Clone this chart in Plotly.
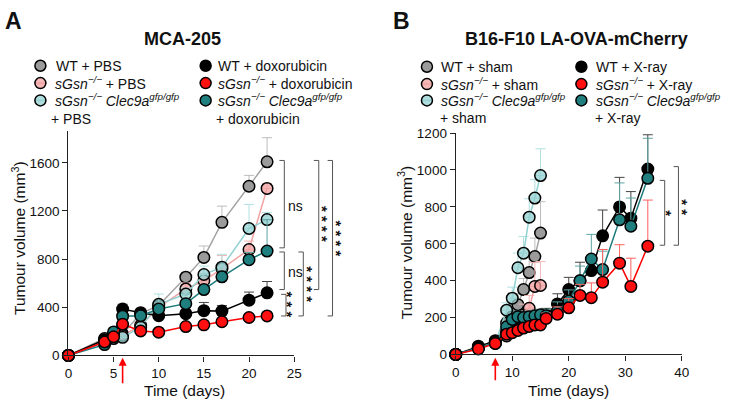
import plotly.graph_objects as go

# ---------------- DATA ----------------
# Panel A: MCA-205
days_A = [0, 4, 5, 6, 8, 10, 13, 15, 17, 20, 22]
wt_pbs = [0, 140, 165, 178, 348, 415, 650, 814, 1105, 1405, 1608]
wt_pbs_err = [0, 20, 20, 25, 30, 40, 40, 95, 135, 90, 200]
ko_pbs = [0, 125, 150, 165, 250, 400, 552, 620, 720, 880, 1387]
ko_pbs_err = [0, 20, 20, 25, 30, 40, 50, 60, 110, 70, 40]
dko_pbs = [0, 105, 140, 150, 235, 425, 510, 672, 733, 1054, 1128]
dko_pbs_err = [0, 20, 20, 25, 30, 85, 50, 70, 107, 200, 60]
wt_dox = [0, 130, 175, 385, 355, 330, 347, 372, 368, 459, 520]
wt_dox_err = [0, 20, 20, 40, 25, 30, 30, 68, 46, 67, 94]
dko_dox = [0, 90, 195, 326, 330, 385, 430, 547, 653, 795, 867]
dko_dox_err = [0, 20, 20, 25, 30, 40, 40, 40, 50, 60, 260]
ko_dox = [0, 112, 155, 259, 203, 193, 240, 254, 280, 315, 328]
ko_dox_err = [0, 15, 15, 20, 20, 20, 20, 25, 25, 25, 25]
treat_day_A = 6

# Panel B: B16-F10 LA-OVA-mCherry
days_sham = [0, 4, 7, 9, 10, 11, 12, 13, 14, 15]
wt_sham = [0, 35, 70, 170, 205, 270, 352, 444, 531, 658]
wt_sham_err = [0, 10, 15, 30, 40, 60, 60, 80, 100, 170]
ko_sham = [0, 35, 65, 100, 178, 190, 213, 250, 369, 374]
ko_sham_err = [0, 10, 15, 20, 30, 40, 60, 70, 130, 130]
dko_sham = [0, 35, 60, 240, 305, 470, 549, 744, 848, 970]
dko_sham_err = [0, 10, 15, 40, 60, 80, 90, 100, 100, 145]

days_xray = [0, 4, 7, 9, 10, 11, 12, 13, 14, 15, 16, 18, 20, 22, 24, 26, 29, 31, 34]
wt_xray = [0, 45, 75, 125, 145, 160, 170, 180, 190, 200, 215, 274, 352, 400, 455, 643, 800, 739, 1005]
wt_xray_err = [0, 10, 15, 20, 20, 25, 25, 25, 30, 30, 35, 55, 66, 100, 80, 140, 160, 144, 186]
dko_xray = [0, 35, 65, 150, 190, 205, 200, 205, 210, 215, 210, 235, 290, 399, 517, 460, 730, 695, 955]
dko_xray_err = [0, 10, 15, 20, 25, 30, 30, 30, 30, 30, 35, 50, 60, 80, 134, 100, 200, 153, 217]
ko_xray = [0, 30, 60, 110, 118, 130, 143, 152, 160, 160, 195, 218, 253, 320, 308, 392, 495, 369, 587]
ko_xray_err = [0, 10, 10, 15, 15, 20, 20, 20, 20, 25, 30, 40, 50, 60, 80, 177, 100, 153, 250]
treat_day_B = 7

ticks_xA = [0, 5, 10, 15, 20, 25]
ticks_yA = [0, 400, 800, 1200, 1600]
ticks_xB = [0, 10, 20, 30, 40]
ticks_yB = [0, 200, 400, 600, 800, 1000, 1200]

# ---------------- STYLE ----------------
W, H = 732, 409
FONT = "Liberation Sans, Arial, Helvetica, sans-serif"


def px(x):
    return x / W


def py(y):
    return 1 - y / H


C = {
    "wt": dict(line="#a3a3a3", fill="#9b9b9b", err="#bdbdbd"),
    "ko": dict(line="#f2a3a3", fill="rgba(242,160,160,0.75)", err="#f5b8b8"),
    "dko": dict(line="#92d1d1", fill="rgba(148,208,208,0.75)", err="#b0e0e0"),
    "wtT": dict(line="#000000", fill="#000000", err="#444444"),
    "dkoT": dict(line="#1d7b7b", fill="#1f7f7f", err="#5fa3a3"),
    "koT": dict(line="#ff0000", fill="#ff1010", err="#ff6060"),
}

fig = go.Figure()


def add(x, y, err, key, xa, ya):
    c = C[key]
    fig.add_trace(go.Scatter(
        x=x, y=y, mode="lines+markers", xaxis=xa, yaxis=ya,
        line=dict(color=c["line"], width=1.5),
        marker=dict(size=11.5, color=c["fill"], line=dict(color="black", width=1.5)),
        error_y=dict(type="data", array=err, arrayminus=[0] * len(err), symmetric=False,
                     color=c["err"], thickness=1, width=5),
        cliponaxis=False, showlegend=False, hoverinfo="skip"))


add(days_A, wt_pbs, wt_pbs_err, "wt", "x", "y")
add(days_A, ko_pbs, ko_pbs_err, "ko", "x", "y")
add(days_A, dko_pbs, dko_pbs_err, "dko", "x", "y")
add(days_A, wt_dox, wt_dox_err, "wtT", "x", "y")
add(days_A, dko_dox, dko_dox_err, "dkoT", "x", "y")
add(days_A, ko_dox, ko_dox_err, "koT", "x", "y")

add(days_sham, wt_sham, wt_sham_err, "wt", "x2", "y2")
add(days_sham, ko_sham, ko_sham_err, "ko", "x2", "y2")
add(days_sham, dko_sham, dko_sham_err, "dko", "x2", "y2")
add(days_xray, wt_xray, wt_xray_err, "wtT", "x2", "y2")
add(days_xray, dko_xray, dko_xray_err, "dkoT", "x2", "y2")
add(days_xray, ko_xray, ko_xray_err, "koT", "x2", "y2")

axis_common = dict(showline=True, linecolor="#222", linewidth=1.3, ticks="outside", ticklen=5,
                   tickwidth=1.3, tickcolor="#222", showgrid=False, zeroline=False,
                   tickfont=dict(family=FONT, size=13.5, color="#111"))

fig.update_layout(
    width=W, height=H, margin=dict(l=0, r=0, t=0, b=0),
    paper_bgcolor="white", plot_bgcolor="white",
    font=dict(family=FONT, color="#111"),
    xaxis=dict(domain=[px(65.5), px(295)], range=[0, 25], tickvals=ticks_xA, anchor="y", **axis_common),
    yaxis=dict(domain=[py(361.7), py(129.2)], range=[0, 1860], tickvals=ticks_yA, anchor="x", **axis_common),
    xaxis2=dict(domain=[px(459.3), px(689)], range=[0, 40], tickvals=ticks_xB, anchor="y2", **axis_common),
    yaxis2=dict(domain=[py(360.7), py(130.9)], range=[0, 1200], tickvals=ticks_yB, anchor="x2", **axis_common),
)

ann = []
shapes = []


def text(x, y, s, size=14, anchor="left", angle=0, yshift=0, xshift=0):
    ann.append(dict(x=px(x), y=py(y), xref="paper", yref="paper", text=s, showarrow=False,
                    xanchor=anchor, yanchor="middle", textangle=angle, yshift=yshift, xshift=xshift,
                    font=dict(family=FONT, size=size, color="#111")))


# panel letters and titles
text(10, 15, "<b>A</b>", 23, "center")
text(404, 15, "<b>B</b>", 23, "center")
text(181, 33, "<b>MCA-205</b>", 18, "center")
text(582.5, 33, "<b>B16-F10 LA-OVA-mCherry</b>", 18, "center")

# axis titles
text(15, 240, "Tumour volume (mm<sup>3</sup>)", 15.5, "center", -90)
text(408, 244, "Tumour volume (mm<sup>3</sup>)", 15.5, "center", -90)
text(184, 398, "Time (days)", 15.5, "center")
text(574, 398, "Time (days)", 15.5, "center")


def dot(cx, cy, key):
    c = C[key]
    if "rgba" in c["fill"]:
        shapes.append(dict(type="line", xref="paper", yref="paper", xsizemode="pixel", ysizemode="pixel",
                           xanchor=px(cx), yanchor=py(cy), x0=-6, x1=6, y0=0, y1=0,
                           line=dict(color=c["line"], width=1.5)))
    shapes.append(dict(type="circle", xref="paper", yref="paper", xsizemode="pixel", ysizemode="pixel",
                       xanchor=px(cx), yanchor=py(cy), x0=-5.5, x1=5.5, y0=-5.5, y1=5.5,
                       fillcolor=c["fill"], line=dict(color="black", width=1.5)))


KO = "<i>sGsn<sup>−/−</sup></i>"
DKO = "<i>sGsn<sup>−/−</sup> Clec9a<sup>gfp/gfp</sup></i>"

# Legend A
rowsA = [61, 79, 97]
dot(37, rowsA[0], "wt"); text(51, rowsA[0], "WT + PBS")
dot(37, rowsA[1], "ko"); text(50, rowsA[1], KO + " + PBS")
dot(37, rowsA[2], "dko"); text(50, rowsA[2], DKO)
text(46, 116, "+ PBS")
dot(205, rowsA[0], "wtT"); text(216, rowsA[0], "WT + doxorubicin")
dot(205, rowsA[1], "koT"); text(216, rowsA[1], KO + " + doxorubicin")
dot(205, rowsA[2], "dkoT"); text(216, rowsA[2], DKO)
text(214, 116, "+ doxorubicin")

# Legend B
rowsB = [62, 80, 97]
dot(430, rowsB[0], "wt"); text(442, rowsB[0], "WT + sham")
dot(430, rowsB[1], "ko"); text(442, rowsB[1], KO + " + sham")
dot(430, rowsB[2], "dko"); text(442, rowsB[2], DKO)
text(441, 115, "+ sham")
dot(587, rowsB[0], "wtT"); text(600, rowsB[0], "WT + X-ray")
dot(587, rowsB[1], "koT"); text(600, rowsB[1], KO + " + X-ray")
dot(587, rowsB[2], "dkoT"); text(600, rowsB[2], DKO)
text(599, 115, "+ X-ray")


# significance brackets
def bracket(x, y0, y1):
    path = "M {a},{b} L {c},{b} L {c},{d} L {a},{d}".format(
        a=px(x - 5), b=py(y0), c=px(x), d=py(y1))
    shapes.append(dict(type="path", xref="paper", yref="paper", path=path,
                       line=dict(color="#555", width=1)))


def stars(x, yc, n):
    s = " ".join(["*"] * n)
    text(x, yc, "<b>" + s + "</b>", 15, "center", angle=90, xshift=-3)


bracket(285, 159.3, 250); text(287, 206.7, "ns", 14)
bracket(285, 254.3, 293.3); text(287, 275, "ns", 14)
bracket(286.7, 298.3, 320.7); stars(291, 309, 3)
bracket(304.3, 254.3, 320.7); stars(310.7, 287.5, 4)
bracket(320, 159.3, 293.3); stars(326.7, 225.5, 4)
bracket(334, 159.3, 320.7); stars(340.7, 240.5, 4)

bracket(671.7, 180, 247.3); stars(677, 214, 1)
bracket(685.7, 165.7, 247.3); stars(692, 207.5, 2)

# treatment arrows
ann.append(dict(x=treat_day_A, xref="x", y=py(364), yref="paper", text="", showarrow=True,
                ax=0, ay=27, arrowhead=2, arrowsize=1, arrowwidth=1.6, arrowcolor="#ff0000", standoff=0))
ann.append(dict(x=treat_day_B, xref="x2", y=py(364), yref="paper", text="", showarrow=True,
                ax=0, ay=24, arrowhead=2, arrowsize=1, arrowwidth=1.6, arrowcolor="#ff0000", standoff=0))

fig.update_layout(annotations=ann, shapes=shapes)
fig.write_html("out.html", config={"displayModeBar": False},
               post_script="document.body.style.margin='0px';")
